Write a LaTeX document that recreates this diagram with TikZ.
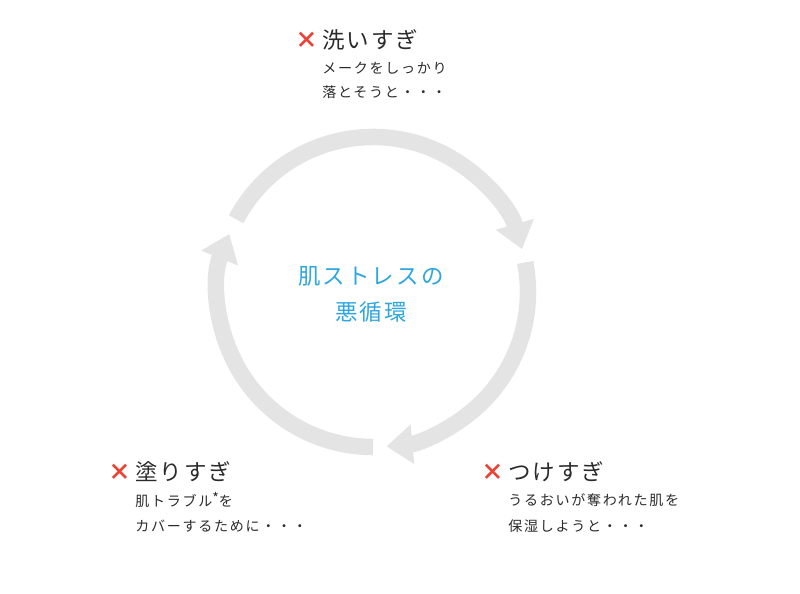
\documentclass[tikz,border=0pt]{standalone}
\usepackage{fontspec}
\newfontfamily\jptitle[LetterSpace=9]{Noto Sans CJK JP}
\newfontfamily\jpsub[LetterSpace=12]{Noto Sans CJK JP}
\newfontfamily\jpmark{Noto Sans CJK JP}
\usetikzlibrary{arrows.meta,positioning}
\definecolor{ringgray}{HTML}{E4E4E4}
\definecolor{cycleblue}{HTML}{2FA6E0}
\definecolor{crossred}{HTML}{EA4335}
\definecolor{textdark}{HTML}{2B2B2B}
\tikzset{
	ring/.style={ringgray,line width=0.33cm,-{Triangle[length=0.52cm,width=0.76cm]}},
	headline/.style={anchor=west,inner sep=0pt,text=textdark,font=\jptitle\fontsize{12.8}{14}\selectfont},
	subline/.style={anchor=west,inner sep=0pt,text=textdark,font=\jpsub\fontsize{8}{10}\selectfont},
	crossmark/.style={inner sep=0pt,text=crossred,font=\jpmark\bfseries\fontsize{13}{14}\selectfont},
}
\begin{document}
\begin{tikzpicture}[x=0.02cm,y=0.02cm]
	\useasboundingbox[fill=white] (0,0) rectangle (800,593);
	\coordinate (hub) at (373,301);
	\draw[ring] ([shift={(152:155)}]hub) arc (152:16:155);
	\draw[ring] ([shift={(11:155)}]hub) arc (11:-85:155);
	\draw[ring] ([shift={(-90:155)}]hub) arc (-90:-202:155);
	\node[align=center,text=cycleblue,font=\jptitle\fontsize{12.8}{20.5}\selectfont] (cycle) at (371,299) {肌ストレスの\\悪循環};
	\node[headline] (wash) at (322,553) {洗いすぎ};
	\node[crossmark,left=2pt of wash] (washx) {×};
	\node[subline] (wash1) at (322,525) {メークをしっかり};
	\node[subline] (wash2) at (322,501) {落とそうと・・・};
	\node[headline] (paint) at (135,121) {塗りすぎ};
	\node[crossmark,left=2pt of paint] (paintx) {×};
	\node[subline] (paint1) at (135,93) {肌トラブル\raisebox{0.2em}{*}を};
	\node[subline] (paint2) at (135,67) {カバーするために・・・};
	\node[headline] (apply) at (508,121) {つけすぎ};
	\node[crossmark,left=2pt of apply] (applyx) {×};
	\node[subline] (apply1) at (508,93) {うるおいが奪われた肌を};
	\node[subline] (apply2) at (508,67) {保湿しようと・・・};
\end{tikzpicture}
\end{document}
